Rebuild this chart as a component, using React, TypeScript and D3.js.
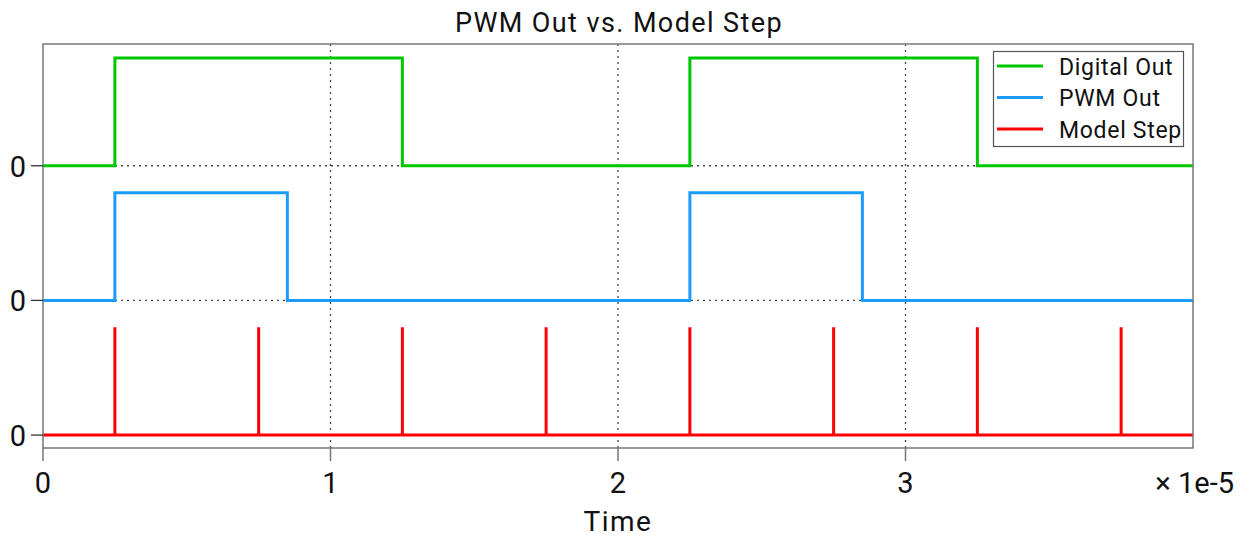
import React from "react";
import * as d3 from "d3";

// ---- data (time in seconds) ----
const digitalTimes = [0, 0.25e-5, 1.25e-5, 2.25e-5, 3.25e-5, 4.0e-5];
const digitalValues = [0, 1, 0, 1, 0, 0];
const pwmTimes = [0, 0.25e-5, 0.85e-5, 2.25e-5, 2.85e-5, 4.0e-5];
const pwmValues = [0, 1, 0, 1, 0, 0];
const stepTimes = [0.25e-5, 0.75e-5, 1.25e-5, 1.75e-5, 2.25e-5, 2.75e-5, 3.25e-5, 3.75e-5];
const stepHeight = 1;
const xTicks = [0, 1e-5, 2e-5, 3e-5];
const xTickLabels = ["0", "1", "2", "3"];
const seriesNames = ["Digital Out", "PWM Out", "Model Step"];
const seriesColors = ["#00c800", "#1a9bff", "#ff0000"];
const laneOffsets = [2.5, 1.25, 0]; // stacked lanes, each with its own 0

const W = 1247;
const H = 537;
const M = { left: 43, right: 1193, top: 44, bottom: 448 };
const FONT = "Roboto, 'DejaVu Sans', sans-serif";

export default function App() {
  const x = d3.scaleLinear().domain([0, 4e-5]).range([M.left, M.right]);
  const y = d3.scaleLinear().domain([-0.12, 3.63]).range([M.bottom, M.top]);

  const stepLine = (offset: number) =>
    d3
      .line<[number, number]>()
      .x((d) => x(d[0]))
      .y((d) => y(d[1] + offset))
      .curve(d3.curveStepAfter);

  const digitalPath = stepLine(laneOffsets[0])(
    digitalTimes.map((t, i) => [t, digitalValues[i]] as [number, number])
  );
  const pwmPath = stepLine(laneOffsets[1])(
    pwmTimes.map((t, i) => [t, pwmValues[i]] as [number, number])
  );
  const spikePts: [number, number][] = [[0, 0]];
  stepTimes.forEach((t) => {
    spikePts.push([t, 0], [t, stepHeight], [t, 0]);
  });
  spikePts.push([4e-5, 0]);
  const spikePath = d3
    .line<[number, number]>()
    .x((d) => x(d[0]))
    .y((d) => y(d[1] + laneOffsets[2]))(spikePts);

  const gridColor = "#444";
  const axisColor = "#777";

  return (
    <div style={{ position: "fixed", left: 0, top: 0 }}>
      <svg width={W} height={H} style={{ display: "block", background: "#fff" }}>
        {/* grid */}
        {xTicks.slice(1).map((t, i) => (
          <line
            key={"gx" + i}
            x1={x(t)}
            x2={x(t)}
            y1={M.top}
            y2={M.bottom}
            stroke={gridColor}
            strokeWidth={1.3}
            strokeDasharray="2,4"
          />
        ))}
        {laneOffsets.map((o, i) => (
          <line
            key={"gy" + i}
            x1={M.left}
            x2={M.right}
            y1={y(o)}
            y2={y(o)}
            stroke={gridColor}
            strokeWidth={1.3}
            strokeDasharray="2,4"
          />
        ))}
        {/* series */}
        <path d={digitalPath || ""} fill="none" stroke={seriesColors[0]} strokeWidth={3} />
        <path d={pwmPath || ""} fill="none" stroke={seriesColors[1]} strokeWidth={3} />
        <path d={spikePath || ""} fill="none" stroke={seriesColors[2]} strokeWidth={3} />
        {/* frame */}
        <rect
          x={M.left}
          y={M.top}
          width={M.right - M.left}
          height={M.bottom - M.top}
          fill="none"
          stroke={axisColor}
          strokeWidth={1.5}
        />
        {/* x ticks */}
        {xTicks.map((t, i) => (
          <g key={"xt" + i}>
            <line x1={x(t)} x2={x(t)} y1={M.bottom} y2={M.bottom + 13} stroke={axisColor} strokeWidth={1.5} />
            <text
              x={x(t)}
              y={493}
              textAnchor="middle"
              fontFamily={FONT}
              fontSize={29}
              fill="#111"
            >
              {xTickLabels[i]}
            </text>
          </g>
        ))}
        <text x={1234} y={493} textAnchor="end" fontFamily={FONT} fontSize={29} fill="#111">
          × 1e-5
        </text>
        {/* y ticks */}
        {laneOffsets.map((o, i) => (
          <g key={"yt" + i}>
            <line x1={M.left - 12} x2={M.left} y1={y(o)} y2={y(o)} stroke="#333" strokeWidth={1.3} />
            <text
              x={26}
              y={y(o) + 11}
              textAnchor="end"
              fontFamily={FONT}
              fontSize={29}
              fill="#111"
            >
              0
            </text>
          </g>
        ))}
        {/* labels */}
        <text x={618} y={531} textAnchor="middle" fontFamily={FONT} fontSize={28} letterSpacing={1.5} fill="#111">
          Time
        </text>
        <text x={619} y={32} textAnchor="middle" fontFamily={FONT} fontSize={27} letterSpacing={1.4} fill="#111">
          PWM Out vs. Model Step
        </text>
        {/* legend */}
        <rect x={993.5} y={51.5} width={190} height={95} fill="#fff" stroke="#555" strokeWidth={1.2} />
        {seriesNames.map((n, i) => (
          <g key={"lg" + i}>
            <line
              x1={997}
              x2={1043}
              y1={66 + i * 31.5}
              y2={66 + i * 31.5}
              stroke={seriesColors[i]}
              strokeWidth={3}
            />
            <text x={1059} y={66 + i * 31.5 + 8.5} fontFamily={FONT} fontSize={23} letterSpacing={0.7} fill="#111">
              {n}
            </text>
          </g>
        ))}
      </svg>
    </div>
  );
}
